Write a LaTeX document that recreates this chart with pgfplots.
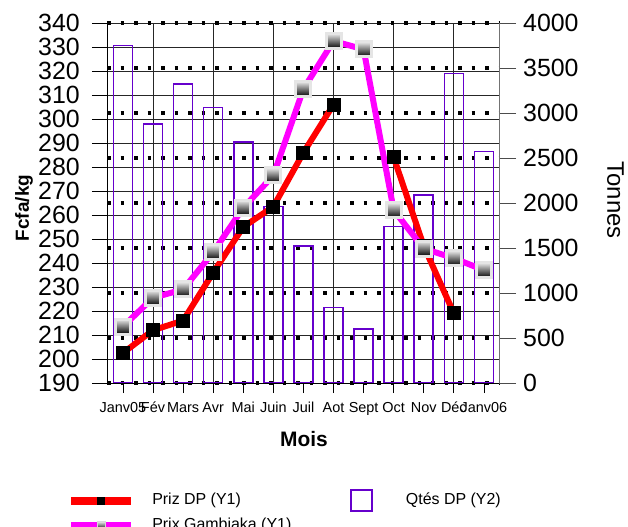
\documentclass[border=0pt]{standalone}
\usepackage{fontspec}
\setmainfont{Liberation Sans}
\usepackage{pgfplots}
\pgfplotsset{compat=1.18}
\definecolor{barpurple}{RGB}{102,0,204}
\definecolor{gam}{RGB}{255,0,255}
\definecolor{dpred}{RGB}{255,0,0}
\pgfdeclareplotmark{gsq}{%
  \shadedraw[top color=black!8, bottom color=black, draw=black!10, line width=3bp]
    (-7.5bp,-7.5bp) rectangle (7.5bp,7.5bp);}
\pgfplotstableread{
x bar dp gam
0 3750 202.5 213.5
1 2880 212 225.5
2 3320 216 229
3 3060 236 244.5
4 2680 255 263
5 1960 263.5 276.5
6 1520 286 312.5
7 840 306 332.5
8 600 nan 329
9 1740 284 262
10 2090 247 246
11 3440 219 242
12 2570 nan 237
}\datatable
\pgfplotsset{
  base/.style={scale only axis, width=392bp, height=360bp,
    xmin=-0.53, xmax=12.5, at={(0,0)}, anchor=south west,
    /pgf/number format/assume math mode=true,
    /pgf/number format/1000 sep={},
    ticklabel style={font=\fontsize{25}{28}\selectfont},
    tick align=outside},
}
\begin{document}
\begin{tikzpicture}
% Axis A: left axis, solid grid, vertical grid lines
\begin{axis}[base,
  ymin=190, ymax=340, ytick distance=10,
  ymajorgrids, xmajorgrids,
  grid style={black!85, line width=0.8bp},
  axis x line*=bottom, axis y line*=left,
  axis line style={black, line width=0.8bp},
  xtick={1,3,5,7,9,11}, xticklabels={},
  xtick style={draw=none},
  ytick style={black, line width=0.8bp},
  major tick length=15bp,
  yticklabel style={inner sep=0pt, xshift=-12bp}]
\addplot[draw=none] coordinates {(0,200)};
\end{axis}
% Axis B: right axis, bars, dotted grid
\begin{axis}[base,
  ymin=0, ymax=4000, ytick distance=500,
  ymajorgrids,
  grid style={black, line width=3.2bp, dash pattern=on 3.5bp off 10bp},
  axis x line=none, axis y line*=right,
  axis line style={black!55, line width=0.8bp},
  ytick style={black!70, line width=0.8bp},
  major tick length=17bp,
  yticklabel style={inner sep=0pt, xshift=7bp},
  ybar, bar width=19bp]
\addplot[draw=barpurple, line width=1.6bp, fill=none] table[x=x, y=bar] {\datatable};
\end{axis}
% Axis C: lines, x ticks, labels and legend
\begin{axis}[base,
  ymin=190, ymax=340,
  axis y line=none, axis x line*=bottom,
  axis line style={black, line width=0.8bp},
  xtick={0,...,12},
  xticklabels={Janv05,Fév,Mars,Avr,Mai,Juin,Juil,Aot,Sept,Oct,Nov,Déc,Janv06},
  xticklabel style={font=\fontsize{14.5}{16}\selectfont, inner sep=0pt, yshift=-9bp},
  xtick style={black, line width=0.8bp},
  major tick length=10bp,
  ytick=\empty,
  unbounded coords=jump,
  legend columns=2, transpose legend,
  legend cell align=left,
  legend style={at={(-0.1018,-0.294)}, anchor=north west, draw=none, fill=none,
    inner sep=0pt, font=\fontsize{16}{19}\selectfont,
    nodes={inner sep=2bp, text height=12bp, text depth=4bp},
    row sep=4bp,
    /tikz/every odd column/.append style={column sep=15bp},
    /tikz/every even column/.append style={column sep=57bp}},
  ]
\addplot[dpred, line width=6bp, mark=square*, mark size=6.5bp,
  mark options={black, fill=black, line width=0pt},
  legend image code/.code={\path[draw=dpred, line width=8bp] (0bp,0bp) -- (60bp,0bp);
    \path[fill=black, draw=none] (26bp,-4bp) rectangle (34bp,4bp);}]
  table[x=x, y=dp] {\datatable};
\addlegendentry{Priz DP (Y1)}
\addplot[gam, line width=6bp, mark=gsq,
  legend image code/.code={\path[draw=gam, line width=8bp] (0bp,0bp) -- (60bp,0bp);
    \shadedraw[top color=black!10, bottom color=black, draw=black!15, line width=1.5bp] (26bp,-4bp) rectangle (34bp,4bp);}]
  table[x=x, y=gam] {\datatable};
\addlegendentry{Prix Gambiaka (Y1)}
\addlegendimage{legend image code/.code={\path[draw=barpurple, line width=1.6bp] (0bp,-10bp) rectangle (21bp,11bp);}}
\addlegendentry{\hspace{16bp}Qtés DP (Y2)}
\end{axis}
\node[rotate=90, font=\bfseries\fontsize{19}{22}\selectfont] at (-83bp,175bp) {Fcfa/kg};
\node[rotate=-90, font=\fontsize{24}{28}\selectfont] at (508.5bp,183bp) {Tonnes};
\node[font=\bfseries\fontsize{21}{24}\selectfont] at (197bp,-56bp) {Mois};
\pgfresetboundingbox
\useasboundingbox (-107bp,-144bp) rectangle (521bp,383bp);
\end{tikzpicture}
\end{document}
